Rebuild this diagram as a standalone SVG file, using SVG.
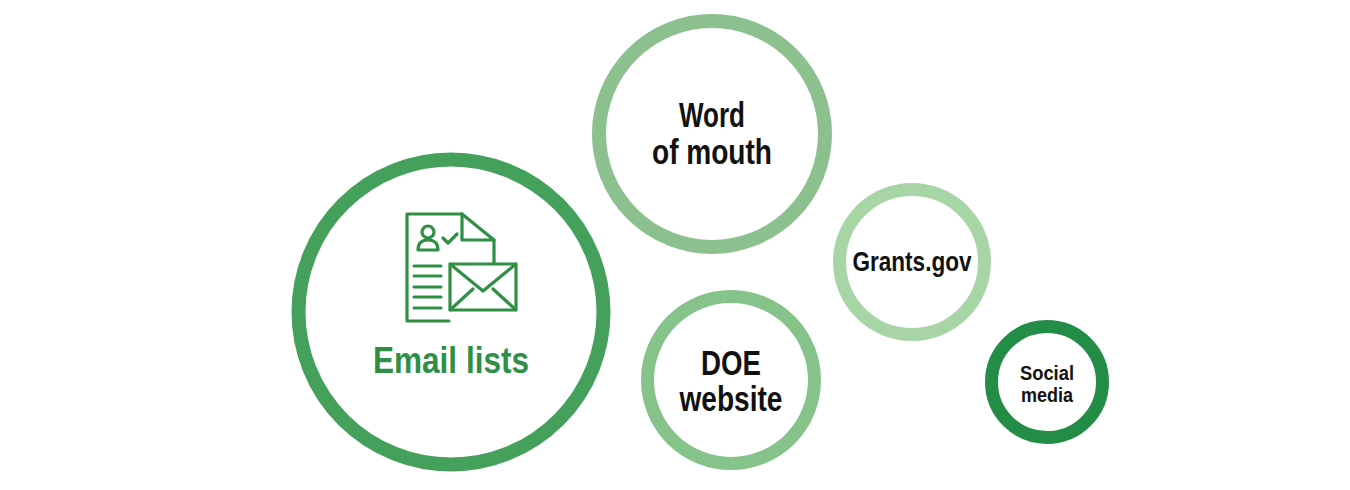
<svg xmlns="http://www.w3.org/2000/svg" width="1350" height="490" viewBox="0 0 1350 490">
<style>
.ring{fill:#fff}
.t{font-family:"Liberation Sans",Arial,sans-serif;font-weight:bold;fill:#111;text-anchor:middle}
.ic{fill:none;stroke:#2f8f45;stroke-width:3.2;stroke-linejoin:round;stroke-linecap:round}
</style>
<rect width="1350" height="490" fill="#fff"/>
<g id="email">
<circle class="ring" cx="451" cy="312" r="152.5" stroke="#45a05c" stroke-width="14"/>
<g class="ic">
<path d="M462 214H407V321H449"/>
<path d="M462 214V240H494V263"/>
<path d="M462 214L494 240"/>
<circle cx="428" cy="232" r="6"/>
<path d="M418 250Q418 240 428 240Q438 240 438 250Z"/>
<path d="M443 238L448 243L457 234"/>
<path d="M414 266H441M414 276H441M414 287H441M414 297H441M414 308H441"/>
<rect x="450" y="264" width="66" height="46" rx="2"/>
<path d="M450 264L483 291L516 264M450 310L473 289M516 310L493 289"/>
</g>
<text x="451" y="373" class="t" style="fill:#2f8f45" font-size="37" textLength="156" lengthAdjust="spacingAndGlyphs">Email lists</text>
</g>
<g id="word">
<circle class="ring" cx="712" cy="134" r="113" stroke="#8cc08f" stroke-width="14"/>
<text x="712" y="127" class="t" font-size="35" textLength="66" lengthAdjust="spacingAndGlyphs">Word</text>
<text x="712" y="164" class="t" font-size="35" textLength="120" lengthAdjust="spacingAndGlyphs">of mouth</text>
</g>
<g id="grants">
<circle class="ring" cx="912" cy="262" r="72.5" stroke="#a8d5a6" stroke-width="13"/>
<text x="912" y="271" class="t" font-size="27" textLength="119" lengthAdjust="spacingAndGlyphs">Grants.gov</text>
</g>
<g id="doe">
<circle class="ring" cx="731" cy="380" r="83.5" stroke="#86c38a" stroke-width="13"/>
<text x="731" y="375" class="t" font-size="35" textLength="60" lengthAdjust="spacingAndGlyphs">DOE</text>
<text x="731" y="411" class="t" font-size="35" textLength="103" lengthAdjust="spacingAndGlyphs">website</text>
</g>
<g id="social">
<circle class="ring" cx="1047" cy="382" r="55.5" stroke="#238c47" stroke-width="13"/>
<text x="1047" y="380" class="t" font-size="21" textLength="54" lengthAdjust="spacingAndGlyphs">Social</text>
<text x="1047" y="402" class="t" font-size="21" textLength="52" lengthAdjust="spacingAndGlyphs">media</text>
</g>
<g id="connectors"/>
</svg>
